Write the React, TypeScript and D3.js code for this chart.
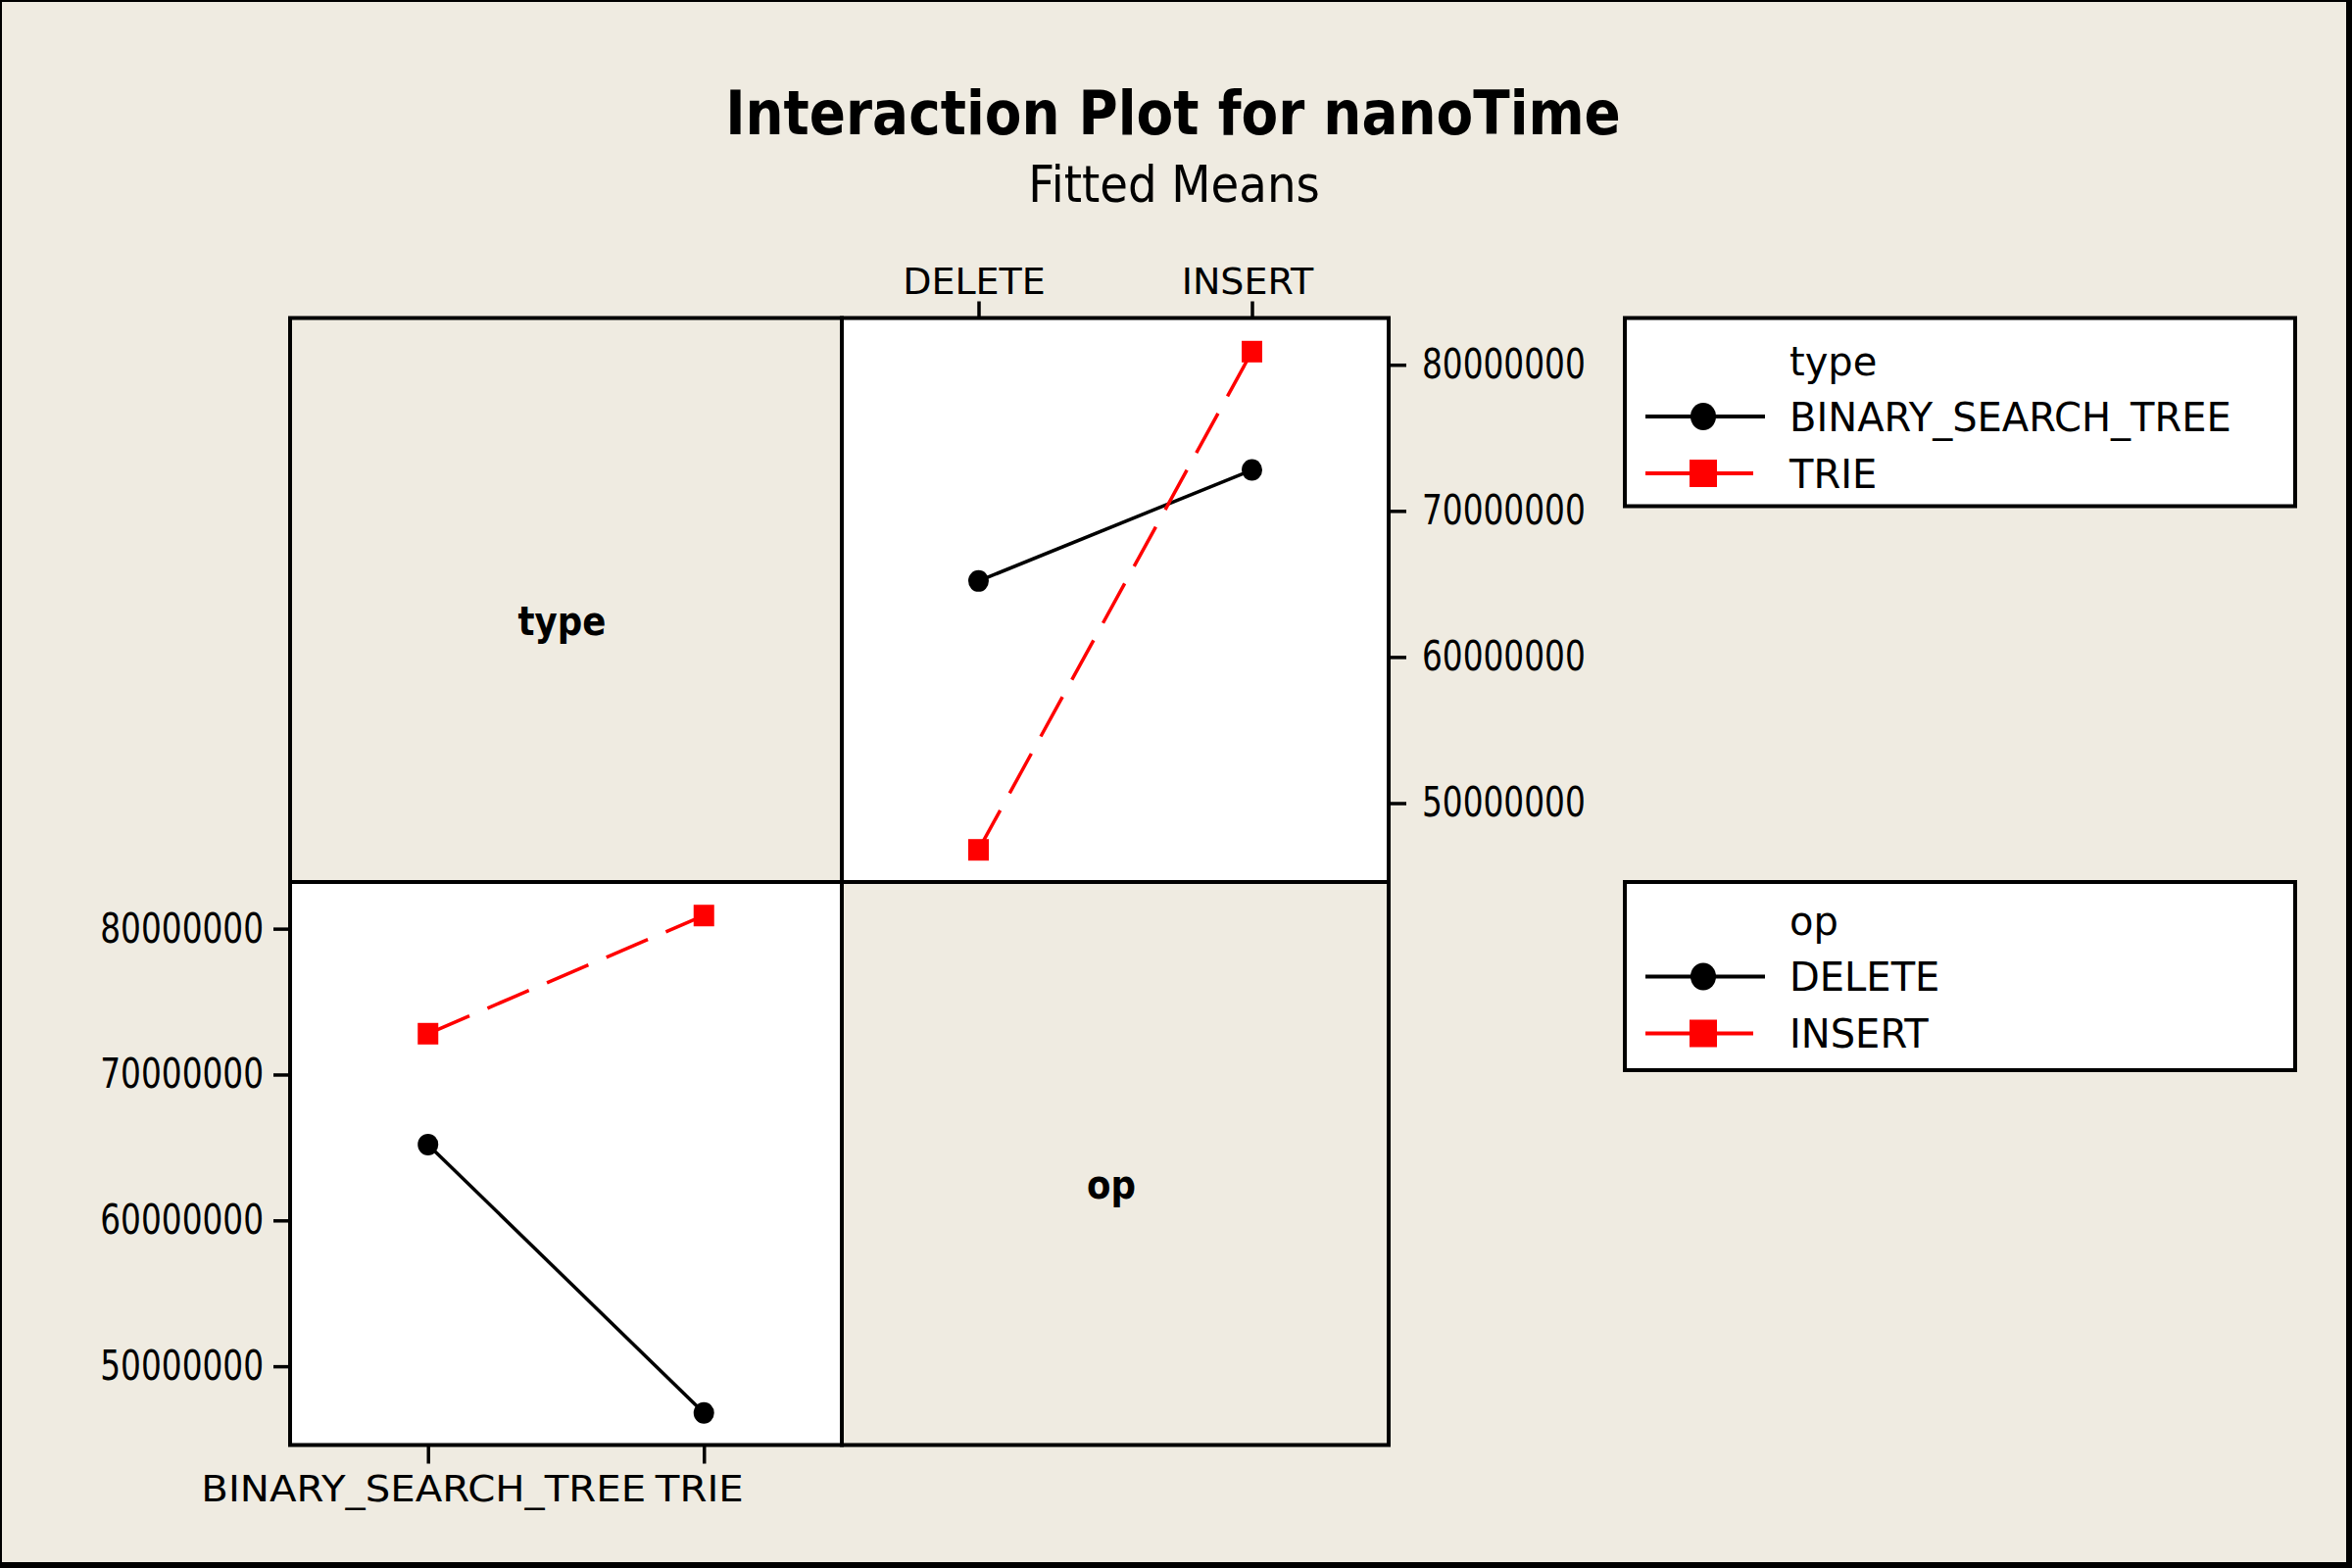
import React, { useRef, useEffect } from 'react';
import * as d3 from 'd3';

// factor levels
const TYPES = ['BINARY_SEARCH_TREE', 'TRIE'];
const OPS = ['DELETE', 'INSERT'];
// fitted means of nanoTime, one array per type, indexed by OPS
const BST_MEANS = [65200000, 72800000];
const TRIE_MEANS = [46800000, 80900000];
const Y_TICKS = [50000000, 60000000, 70000000, 80000000];
const Y_DOMAIN = [44600000, 83200000];

const W = 2400;
const H = 1600;
const BG = '#efebe1';
const FONT = '"DejaVu Sans", Verdana, sans-serif';
const COL = [296, 859, 1417];
const ROW = [324.5, 900, 1474.5];

// squash glyphs horizontally, the original's text is narrower than DejaVu
const squeeze = (sel: any, k: number) => sel.each(function (this: SVGTextElement) {
    const len = this.getComputedTextLength();
    d3.select(this).attr('textLength', len * k).attr('lengthAdjust', 'spacingAndGlyphs');
});

const styleAxis = (g: any, fs: number, k: number, dx = 0) => {
    g.select('.domain').remove();
    g.selectAll('.tick line').attr('stroke', '#000').attr('stroke-width', 3.5);
    g.selectAll('.tick text')
        .attr('fill', '#000').attr('font-family', FONT).attr('font-size', fs)
        .attr('dx', dx)
        .call(squeeze, k);
};

const App = () => {
    const svgRef = useRef<SVGSVGElement>(null);

    useEffect(() => {
        if (!svgRef.current) return;
        const svg = d3.select(svgRef.current);
        svg.selectAll('*').remove();

        // frame
        svg.append('rect').attr('width', W).attr('height', H).attr('fill', '#000');
        svg.append('rect').attr('x', 2).attr('y', 2).attr('width', W - 8).attr('height', H - 8).attr('fill', BG);

        // titles
        svg.append('text').attr('x', 1197).attr('y', 137).attr('text-anchor', 'middle')
            .attr('font-family', FONT).attr('font-weight', 'bold').attr('font-size', 62)
            .text('Interaction Plot for nanoTime').call(squeeze, 0.885);
        svg.append('text').attr('x', 1198).attr('y', 206).attr('text-anchor', 'middle')
            .attr('font-family', FONT).attr('font-size', 52)
            .text('Fitted Means').call(squeeze, 0.897);

        const y = d3.scaleLinear().domain(Y_DOMAIN);
        const yTop = y.copy().range([ROW[1], ROW[0]]);
        const yBot = y.copy().range([ROW[2], ROW[1]]);
        const xOp = d3.scalePoint().domain(OPS).range([COL[1], COL[2]]).padding(0.5);
        const xType = d3.scalePoint().domain(TYPES).range([COL[0], COL[1]]).padding(0.5);

        // panel cells: off-diagonal white, diagonal holds factor names
        const cells = [
            { r: 0, c: 0, fill: 'none', label: 'type' },
            { r: 0, c: 1, fill: '#fff', label: '' },
            { r: 1, c: 0, fill: '#fff', label: '' },
            { r: 1, c: 1, fill: 'none', label: 'op' },
        ];
        cells.forEach(d => {
            svg.append('rect')
                .attr('x', COL[d.c]).attr('y', ROW[d.r])
                .attr('width', COL[d.c + 1] - COL[d.c]).attr('height', ROW[d.r + 1] - ROW[d.r])
                .attr('fill', d.fill);
        });

        // series
        const topSeries = [
            { name: TYPES[0], vals: BST_MEANS, color: '#000', dash: null, shape: 'circle' },
            { name: TYPES[1], vals: TRIE_MEANS, color: '#ff0000', dash: '46,20', shape: 'square' },
        ];
        const botSeries = [
            { name: OPS[0], vals: [BST_MEANS[0], TRIE_MEANS[0]], color: '#000', dash: null, shape: 'circle' },
            { name: OPS[1], vals: [BST_MEANS[1], TRIE_MEANS[1]], color: '#ff0000', dash: '46,20', shape: 'square' },
        ];

        const drawSeries = (series: any[], cats: string[], x: any, yy: any) => {
            series.forEach(s => {
                const pts = cats.map((c, i) => [x(c), yy(s.vals[i])] as [number, number]);
                svg.append('path')
                    .attr('d', d3.line()(pts))
                    .attr('fill', 'none').attr('stroke', s.color).attr('stroke-width', 3.5)
                    .attr('stroke-dasharray', s.dash);
                pts.forEach(([px, py]) => {
                    if (s.shape === 'circle') {
                        svg.append('ellipse').attr('cx', px).attr('cy', py).attr('rx', 10.5).attr('ry', 11).attr('fill', s.color);
                    } else {
                        svg.append('rect').attr('x', px - 10.5).attr('y', py - 11).attr('width', 21).attr('height', 22).attr('fill', s.color);
                    }
                });
            });
        };
        drawSeries(topSeries, OPS, xOp, yTop);
        drawSeries(botSeries, TYPES, xType, yBot);

        // borders
        cells.forEach(d => {
            svg.append('rect')
                .attr('x', COL[d.c]).attr('y', ROW[d.r])
                .attr('width', COL[d.c + 1] - COL[d.c]).attr('height', ROW[d.r + 1] - ROW[d.r])
                .attr('fill', 'none').attr('stroke', '#000').attr('stroke-width', 4);
        });

        // diagonal labels
        cells.filter(d => d.label).forEach(d => {
            const cx = (COL[d.c] + COL[d.c + 1]) / 2 - 4;
            const cy = (ROW[d.r] + ROW[d.r + 1]) / 2 + 36;
            svg.append('text').attr('x', cx).attr('y', cy).attr('text-anchor', 'middle')
                .attr('font-family', FONT).attr('font-weight', 'bold').attr('font-size', 40)
                .text(d.label).call(squeeze, 0.89);
        });

        // axes
        const fmt = d3.format('d');
        svg.append('g').attr('transform', `translate(0,${ROW[0]})`)
            .call(d3.axisTop(xOp).tickSize(17).tickPadding(7.5))
            .call(g => styleAxis(g, 38, 1, -5));
        svg.append('g').attr('transform', `translate(${COL[2]},0)`)
            .call(d3.axisRight(yTop).tickValues(Y_TICKS).tickFormat(fmt as any).tickSize(18).tickPadding(16))
            .call(g => styleAxis(g, 42, 0.78));
        svg.append('g').attr('transform', `translate(0,${ROW[2]})`)
            .call(d3.axisBottom(xType).tickSize(19).tickPadding(12))
            .call(g => styleAxis(g, 38, 1.06, -5));
        svg.append('g').attr('transform', `translate(${COL[0]},0)`)
            .call(d3.axisLeft(yBot).tickValues(Y_TICKS).tickFormat(fmt as any).tickSize(17).tickPadding(10))
            .call(g => styleAxis(g, 42, 0.78));

        // legends
        const legends = [
            { title: 'type', top: ROW[0], shift: 0, series: topSeries },
            { title: 'op', top: ROW[1], shift: -4, series: botSeries },
        ];
        legends.forEach(L => {
            const g = svg.append('g').attr('transform', `translate(0,${L.top})`);
            g.append('rect').attr('x', 1658).attr('y', 0).attr('width', 684).attr('height', 192)
                .attr('fill', '#fff').attr('stroke', '#000').attr('stroke-width', 4);
            g.append('text').attr('x', 1826).attr('y', 58 + L.shift)
                .attr('font-family', FONT).attr('font-size', 40).text(L.title);
            L.series.forEach((s, i) => {
                const by = 115 + i * 58 + L.shift;
                const ly = by - 14.5;
                g.append('line').attr('x1', 1679).attr('x2', s.shape === 'circle' ? 1801 : 1789)
                    .attr('y1', ly).attr('y2', ly).attr('stroke', s.color).attr('stroke-width', 4);
                if (s.shape === 'circle') {
                    g.append('ellipse').attr('cx', 1738).attr('cy', ly).attr('rx', 13).attr('ry', 14).attr('fill', s.color);
                } else {
                    g.append('rect').attr('x', 1724).attr('y', ly - 14).attr('width', 28).attr('height', 28).attr('fill', s.color);
                }
                g.append('text').attr('x', 1826).attr('y', by)
                    .attr('font-family', FONT).attr('font-size', 40).text(s.name);
            });
        });
    }, []);

    return (
        <svg ref={svgRef} width={W} height={H}
            style={{ position: 'absolute', left: 0, top: 0, display: 'block' }} />
    );
};

export default App;
